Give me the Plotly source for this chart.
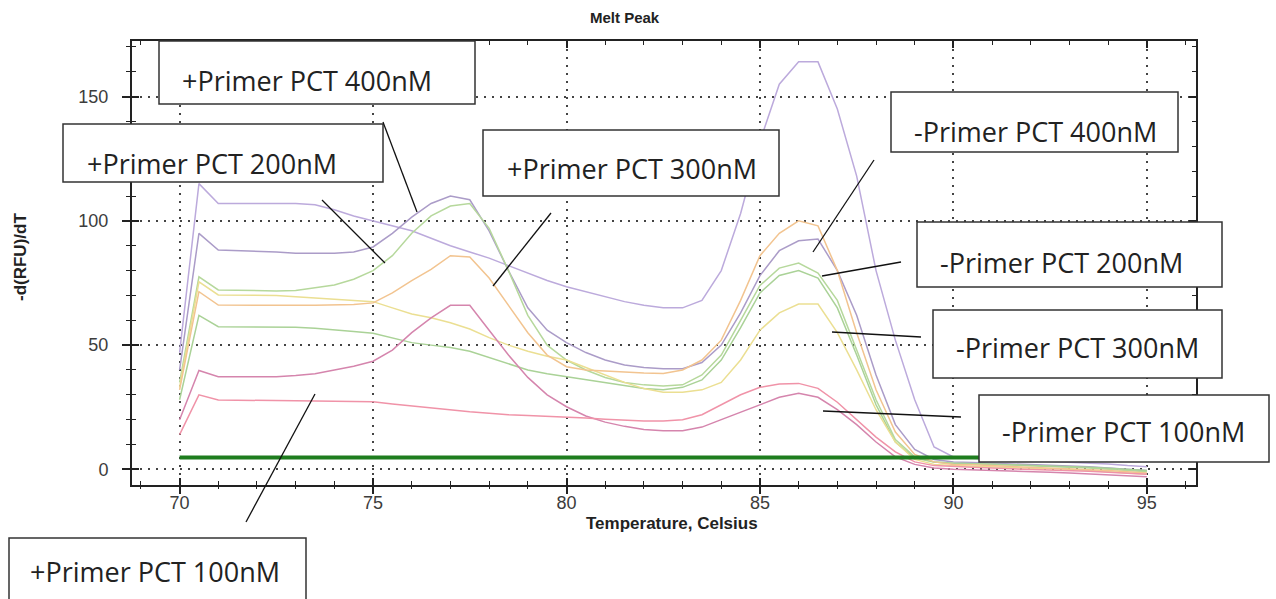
import plotly.graph_objects as go

# ---------------- data ----------------
temperature = [70, 70.5, 71, 71.5, 72, 72.5, 73, 73.5, 74, 74.5, 75, 75.5, 76, 76.5, 77, 77.5,
               78, 78.5, 79, 79.5, 80, 80.5, 81, 81.5, 82, 82.5, 83, 83.5, 84, 84.5, 85, 85.5,
               86, 86.5, 87, 87.5, 88, 88.5, 89, 89.5, 90, 90.5, 91, 91.5, 92, 92.5, 93, 93.5,
               94, 94.5, 95]

purple_a = [47, 115, 107, 107, 107, 107, 107, 106.5, 104.5, 102, 100, 98, 96, 93, 90, 87.5,
            85, 82, 79, 76, 73.5, 71.5, 69.5, 67.5, 66, 65, 65, 68, 80, 103, 132, 155,
            164, 164, 145, 118, 80, 52, 28, 9, 5, 4.5, 4, 3.8, 3.5, 3.2, 3, 2.6,
            2.2, 1.5, 1]
purple_b = [40, 95, 88.3, 88, 88, 87.5, 87, 87, 87, 87.5, 89.5, 95, 101.5, 107, 110, 108.5,
            96, 80, 65, 56, 51, 47, 44, 42, 41, 40.5, 40.5, 43, 50, 63, 78, 88,
            92, 92.7, 80, 62, 38, 18, 8, 4, 3, 2.8, 2.5, 2.3, 2, 1.8, 1.5, 1,
            0.5, 0, -0.5]
green_e = [35, 77.5, 72.2, 72, 71.8, 71.8, 72, 73, 74.2, 76.5, 80, 86, 95, 102, 106, 107,
           97, 80, 62, 50, 44, 40, 37, 35, 34, 33.5, 34, 38, 46, 60, 74, 81,
           83, 79, 68, 48, 28, 12, 5, 3, 2.5, 2.3, 2, 1.8, 1.5, 1.3, 1, 0.5,
           0, -0.5, -1]
yellow_f = [33, 75.5, 70.2, 70.2, 70.2, 70, 69.5, 69, 68.5, 68, 67.5, 65, 62.5, 61, 59, 56.5,
            53, 50, 47.5, 45.5, 44, 41, 38, 35, 32.5, 31, 31, 32, 35, 44, 56, 63,
            66.5, 66.5, 55, 40, 24, 11, 4, 2, 1.5, 1.3, 1, 0.8, 0.5, 0.3, 0, -0.5,
            -1, -1.5, -2]
orange_g = [32, 71.5, 66.1, 66, 66, 66, 66, 66, 66, 66.3, 67, 71, 76, 80.5, 86, 85.5,
            77, 66, 55, 46, 41.3, 40, 39.5, 39, 38.8, 38.6, 40, 44, 52, 68, 86, 95,
            100, 98, 80, 55, 32, 15, 6, 3, 2, 1.8, 1.5, 1.2, 1, 0.7, 0.3, 0,
            -0.5, -1, -1.5]
green_h = [28, 62, 57.4, 57.4, 57.4, 57.4, 57.2, 56.8, 56, 55.5, 54.8, 53, 51, 50, 49, 47.5,
           45, 42.3, 40, 38.5, 37.3, 36, 34.7, 33.5, 32.5, 32, 33, 36, 44, 57, 71, 78,
           80, 77, 65, 46, 26, 11, 4.5, 3, 2.5, 2.3, 2.1, 1.9, 1.7, 1.5, 1.2, 0.8,
           0.4, 0, -0.5]
pink_c = [20, 39.8, 37.3, 37.3, 37.3, 37.3, 37.8, 38.5, 40, 41.5, 43.5, 48, 55, 61, 66, 66,
          56, 46, 37, 30, 25.2, 21.5, 19, 17.3, 16, 15.5, 15.5, 17, 20, 23, 26, 29,
          30.6, 29, 24, 18, 11, 5, 2, 0.5, 0, -0.2, -0.5, -0.7, -1, -1.2, -1.5, -1.8,
          -2.2, -2.6, -3]
pink_d = [14, 30, 27.9, 27.9, 27.8, 27.7, 27.6, 27.5, 27.4, 27.3, 27.2, 26.3, 25.5, 24.5, 23.8, 23.2,
          22.6, 22, 21.7, 21.4, 21.2, 20.7, 20.2, 19.8, 19.5, 19.5, 20, 22, 26, 30, 33, 34.3,
          34.6, 32.6, 27, 20, 13, 7, 3, 1.5, 1, 0.8, 0.5, 0.3, 0, -0.2, -0.5, -0.8,
          -1.2, -1.6, -2]

threshold_x = [70, 95]
threshold_y = [4.8, 4.8]

x_ticks = [70, 75, 80, 85, 90, 95]
y_ticks = [0, 50, 100, 150]

labels = ["+Primer PCT 400nM", "+Primer PCT 200nM", "+Primer PCT 300nM", "-Primer PCT 400nM",
          "-Primer PCT 200nM", "-Primer PCT 300nM", "-Primer PCT 100nM", "+Primer PCT 100nM"]

# ---------------- figure ----------------
W, H = 1276, 599
L, R, T, B = 132, 80, 41, 114
PW, PH = W - L - R, H - T - B

def px(xp):
    return (xp - L) / PW

def py(yp):
    return (H - B - yp) / PH

series = [
    ("purple A", purple_a, "#bcaadc"),
    ("purple B", purple_b, "#ab9cc8"),
    ("green E", green_e, "#b6d89c"),
    ("green H", green_h, "#aad297"),
    ("yellow F", yellow_f, "#ebdf92"),
    ("orange G", orange_g, "#f2c490"),
    ("pink C", pink_c, "#d585ad"),
    ("pink D", pink_d, "#f093a8"),
]

fig = go.Figure()
for name, vals, col in series:
    fig.add_trace(go.Scatter(x=temperature, y=vals, mode="lines", name=name,
                             line=dict(color=col, width=1.5), showlegend=False))
fig.add_trace(go.Scatter(x=threshold_x, y=threshold_y, mode="lines", name="threshold",
                         line=dict(color="#1e7d1e", width=4), showlegend=False))
# dummy trace on overlay axes so they are drawn
fig.add_trace(go.Scatter(x=[None], y=[None], xaxis="x2", yaxis="y2", showlegend=False,
                         hoverinfo="skip"))

xr = [68.77, 96.27]
yr = [-6.3, 172.4]
tickfont = dict(family="Liberation Sans, Arial, sans-serif", size=18, color="#3c3c3c")

fig.update_layout(
    width=W, height=H,
    margin=dict(l=L, r=R, t=T, b=B),
    paper_bgcolor="white", plot_bgcolor="white",
    # main x axis: labels, inside ticks (mirrored to top)
    xaxis=dict(range=xr, tickvals=x_ticks, ticks="inside", ticklen=7, tickwidth=1.5,
               tickcolor="#222", showline=True, linecolor="#222", linewidth=2,
               mirror="allticks",
               showgrid=True, gridcolor="#444", gridwidth=1.5, griddash="2px,6px",
               zeroline=False, tickfont=tickfont, ticklabelstandoff=0,
               minor=dict(dtick=1, tick0=0, ticks="inside", ticklen=4, tickwidth=1.2,
                          tickcolor="#222", showgrid=False)),
    yaxis=dict(range=yr, tickvals=y_ticks, ticks="outside", ticklen=8, tickwidth=1.5,
               tickcolor="#222", showline=True, linecolor="#222", linewidth=2, mirror=True,
               showgrid=True, gridcolor="#444", gridwidth=1.5, griddash="2px,6px",
               zeroline=False, tickfont=tickfont, ticklabelstandoff=10,
               minor=dict(dtick=10, tick0=0, ticks="outside", ticklen=4, tickwidth=1.2,
                          tickcolor="#222", showgrid=False)),
    # overlay x axis: outside ticks at the bottom only
    xaxis2=dict(range=xr, overlaying="x", anchor="y2", side="bottom", tickvals=x_ticks,
                ticks="outside", ticklen=8, tickwidth=1.5, tickcolor="#222", mirror=False,
                showline=False, showgrid=False, zeroline=False, showticklabels=False,
                minor=dict(dtick=1, tick0=0, ticks="outside", ticklen=3, tickwidth=1.2,
                           tickcolor="#222", showgrid=False)),
    # overlay y axis: inside ticks on both sides
    yaxis2=dict(range=yr, overlaying="y", anchor="x2", tickvals=y_ticks, ticks="inside",
                ticklen=7, tickwidth=1.5, tickcolor="#222", mirror="allticks",
                showline=False, showgrid=False, zeroline=False, showticklabels=False,
                minor=dict(dtick=10, tick0=0, ticks="inside", ticklen=4, tickwidth=1.2,
                           tickcolor="#222", showgrid=False)),
)

boldfont = dict(family="Liberation Sans, Arial, sans-serif", size=17, color="#222")
fig.add_annotation(text="<b>Melt Peak</b>", x=px(625), y=py(18), xref="paper", yref="paper",
                   showarrow=False, font=dict(family="Liberation Sans, Arial", size=15, color="#222"),
                   xanchor="center", yanchor="middle")
fig.add_annotation(text="<b>Temperature, Celsius</b>", x=px(672), y=py(523), xref="paper",
                   yref="paper", showarrow=False, font=boldfont, xanchor="center",
                   yanchor="middle")
fig.add_annotation(text="<b>-d(RFU)/dT</b>", x=px(20), y=py(257), xref="paper", yref="paper",
                   showarrow=False, font=boldfont, textangle=-90, xanchor="center",
                   yanchor="middle")

# label boxes: (x0, y0, x1, y1) in pixels, text start x, text center y
boxes = [
    (159, 41, 475, 104, 180, 80),
    (63, 124, 383, 182, 85, 162),
    (483, 130, 779, 196, 505, 167),
    (891, 92, 1178, 152, 912, 130),
    (917, 222, 1222, 287, 938, 261),
    (933, 310, 1222, 378, 954, 346),
    (979, 395, 1269, 462, 1000, 430),
    (9, 538, 306, 620, 28, 570),
]
leaders = [
    (383, 122, 417, 212),
    (322, 200, 385, 263),
    (551, 213, 493, 286),
    (874, 160, 813, 252),
    (901, 262, 822, 276),
    (832, 332, 921, 337),
    (823, 411, 961, 417),
    (315, 394, 246, 522),
]
labfont = dict(family="Open Sans, Noto Sans, sans-serif", size=27, color="#222")
for (x0, y0, x1, y1, tx, ty), lab in zip(boxes, labels):
    fig.add_shape(type="rect", xref="paper", yref="paper", x0=px(x0), x1=px(x1),
                  y0=py(y1), y1=py(y0), fillcolor="white",
                  line=dict(color="#333", width=1.5), layer="above")
    fig.add_annotation(text=lab, x=px(tx), y=py(ty + 1), xref="paper", yref="paper",
                       showarrow=False, font=labfont, xanchor="left", yanchor="middle")
for (x0, y0, x1, y1) in leaders:
    fig.add_shape(type="line", xref="paper", yref="paper", x0=px(x0), y0=py(y0),
                  x1=px(x1), y1=py(y1), line=dict(color="#111", width=1.3), layer="above")

fig.write_html("out.html")
